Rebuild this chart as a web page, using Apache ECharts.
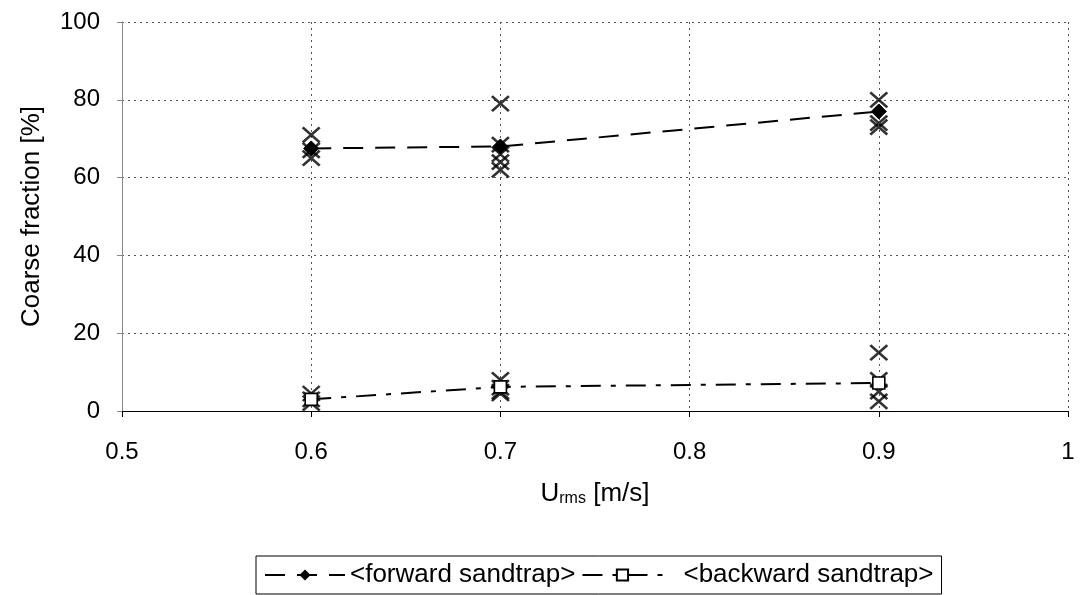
<!DOCTYPE html>
<html>
<head>
<meta charset="utf-8">
<script src="https://cdn.jsdelivr.net/npm/echarts@6/dist/echarts.min.js"></script>
<style>html,body{margin:0;padding:0;background:#fff}#c{width:1080px;height:595px}</style>
</head>
<body>
<div id="c"></div>
<script>
// Data
const xTicks = [0.5, 0.6, 0.7, 0.8, 0.9, 1];
const forwardMean = [[0.6, 67.5], [0.7, 68], [0.9, 77]];
const backwardMean = [[0.6, 3], [0.7, 6.2], [0.9, 7.2]];
const forwardSamples = [[0.6, 71], [0.6, 67], [0.6, 65], [0.7, 79], [0.7, 68.5], [0.7, 66], [0.7, 64], [0.7, 62], [0.9, 80], [0.9, 74], [0.9, 73]];
const backwardSamples = [[0.6, 4.5], [0.6, 3], [0.6, 2], [0.7, 8], [0.7, 6], [0.7, 5], [0.7, 4.5], [0.9, 15], [0.9, 8], [0.9, 5], [0.9, 2.5]];
const seriesNames = ['<forward sandtrap>', '<backward sandtrap>'];

const FONT = 'Liberation Sans, Arial, sans-serif';
const xPath = 'path://M0,0 L10,10 M10,0 L0,10';
const chart = echarts.init(document.getElementById('c'));
chart.setOption({
  animation: false,
  backgroundColor: '#fff',
  grid: { left: 122, right: 12, top: 22, bottom: 184 },
  legend: {
    data: [
      { name: seriesNames[0] },
      { name: seriesNames[1], textStyle: { padding: [0, 0, 0, 16] } }
    ],
    bottom: 1,
    left: 256,
    itemWidth: 80,
    itemHeight: 14,
    itemGap: 6,
    borderColor: '#000',
    borderWidth: 1,
    borderRadius: 0,
    padding: [6, 8, 6, 8],
    textStyle: { fontFamily: FONT, fontSize: 26, color: '#000' }
  },
  xAxis: {
    type: 'value', min: 0.5, max: 1, interval: 0.1,
    name: 'U{sub|rms} [m/s]',
    nameLocation: 'middle', nameGap: 70,
    nameTextStyle: {
      fontFamily: FONT, fontSize: 26, color: '#000',
      rich: { sub: { fontFamily: FONT, fontSize: 16, color: '#000', verticalAlign: 'bottom', padding: [10, 0, 0, 0] } }
    },
    axisLine: { show: true, onZero: false, lineStyle: { color: '#000', width: 1 } },
    axisTick: { show: true, inside: false, length: 6, lineStyle: { color: '#000' } },
    axisLabel: {
      fontFamily: FONT, fontSize: 24, color: '#000', margin: 29,
      formatter: v => String(Math.round(v * 10) / 10)
    },
    splitLine: { show: true, lineStyle: { color: '#555', type: [2, 4], width: 1 } }
  },
  yAxis: {
    type: 'value', min: 0, max: 100, interval: 20,
    name: 'Coarse fraction [%]',
    nameLocation: 'middle', nameGap: 77,
    nameTextStyle: { fontFamily: FONT, fontSize: 26, color: '#000' },
    axisLine: { show: true, lineStyle: { color: '#888', width: 1 } },
    axisTick: { show: true, length: 5, lineStyle: { color: '#888' } },
    axisLabel: { fontFamily: FONT, fontSize: 24, color: '#000', margin: 22 },
    splitLine: { show: true, lineStyle: { color: '#555', type: [2, 4], width: 1 } }
  },
  series: [
    {
      name: 'fs', type: 'scatter', data: forwardSamples, symbol: xPath, symbolSize: [17, 15],
      itemStyle: { color: 'none', borderColor: '#000', borderWidth: 2.6 }, z: 2, silent: true
    },
    {
      name: 'bs', type: 'scatter', data: backwardSamples, symbol: xPath, symbolSize: [17, 15],
      itemStyle: { color: 'none', borderColor: '#000', borderWidth: 2.6 }, z: 2, silent: true
    },
    {
      name: seriesNames[0], type: 'line', data: forwardMean,
      symbol: 'diamond', symbolSize: 15,
      itemStyle: { color: '#000', borderColor: '#000' },
      lineStyle: { color: '#000', width: 2, type: [20, 12] }, z: 3
    },
    {
      name: seriesNames[1], type: 'line', data: backwardMean,
      symbol: 'rect', symbolSize: 12,
      itemStyle: { color: '#fff', borderColor: '#000', borderWidth: 1.6 },
      lineStyle: { color: '#000', width: 2, type: [20, 10, 5, 10] }, z: 3
    }
  ]
});
</script>
</body>
</html>
